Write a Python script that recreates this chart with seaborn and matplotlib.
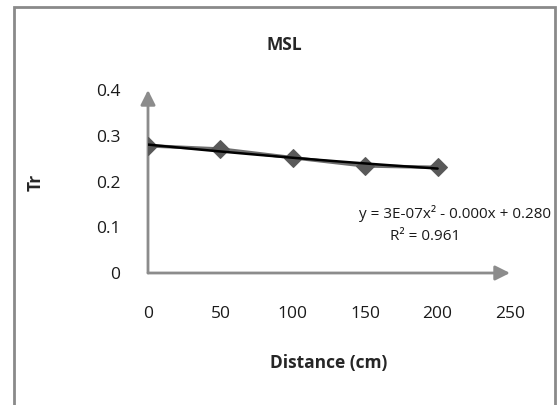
import numpy as np
import pandas as pd
import matplotlib
matplotlib.use("Agg")
import matplotlib.pyplot as plt
from matplotlib.patches import Rectangle
import seaborn as sns

distance = [0, 50, 100, 150, 200]
tr = [0.278, 0.271, 0.252, 0.234, 0.231]
x_ticks = [0, 50, 100, 150, 200, 250]
y_ticks = [0, 0.1, 0.2, 0.3, 0.4]
y_tick_labels = ["0", "0.1", "0.2", "0.3", "0.4"]

sns.set_theme(style="white")
plt.rcParams["font.family"] = ["Open Sans", "DejaVu Sans"]

df = pd.DataFrame({"distance": distance, "tr": tr})

fig = plt.figure(figsize=(5.59, 4.05), dpi=100)
ax = fig.add_axes([148 / 559, 1 - 273 / 405, 362 / 559, 183 / 405])

sns.lineplot(data=df, x="distance", y="tr", ax=ax, color="#6e6e6e",
             linewidth=2.5, marker="D", markersize=9,
             markerfacecolor="#595959", markeredgecolor="#595959", zorder=3)
sns.regplot(data=df, x="distance", y="tr", ax=ax, order=2, ci=None,
            scatter=False, truncate=True,
            line_kws={"color": "black", "linewidth": 1.8, "zorder": 4})

ax.set_xlim(0, 250)
ax.set_ylim(0, 0.4)
ax.set_xticks(x_ticks)
ax.set_yticks(y_ticks)
ax.set_yticklabels(y_tick_labels)
ax.tick_params(axis="both", length=0, labelsize=12.5, colors="#1a1a1a")
ax.tick_params(axis="x", pad=24)
ax.tick_params(axis="y", pad=20)
ax.set_xlabel("")
ax.set_ylabel("")
for s in ax.spines.values():
    s.set_visible(False)

axis_col = "#8c8c8c"
ax.annotate("", xy=(0, 0.4), xytext=(0, 0), xycoords="data",
            arrowprops=dict(arrowstyle="-|>", color=axis_col, lw=2,
                            mutation_scale=22, shrinkA=0, shrinkB=0),
            annotation_clip=False, zorder=1)
ax.annotate("", xy=(250, 0), xytext=(0, 0), xycoords="data",
            arrowprops=dict(arrowstyle="-|>", color=axis_col, lw=2,
                            mutation_scale=22, shrinkA=0, shrinkB=0),
            annotation_clip=False, zorder=1)

fig.text(455 / 559, 1 - 213 / 405, "y = 3E-07x² - 0.000x + 0.280",
         ha="center", va="center", fontsize=11, color="#1a1a1a")
fig.text(425 / 559, 1 - 237 / 405, "R² = 0.961",
         ha="center", va="center", fontsize=11, color="#1a1a1a")

fig.text(284 / 559, 1 - 45 / 405, "MSL", ha="center", va="center",
         fontsize=12.5, fontweight="bold")
fig.text(36 / 559, 1 - 182 / 405, "Tr", ha="center", va="center",
         fontsize=12.5, fontweight="bold", rotation=90)
fig.text(329 / 559, 1 - 363 / 405, "Distance (cm)", ha="center", va="center",
         fontsize=12.5, fontweight="bold")

fig.patches.append(Rectangle((14 / 559, -0.05), 541 / 559, 1.05 - 7 / 405,
                             transform=fig.transFigure, fill=False,
                             edgecolor="#8a8a8a", linewidth=2))

fig.savefig("out.png", dpi=100)
